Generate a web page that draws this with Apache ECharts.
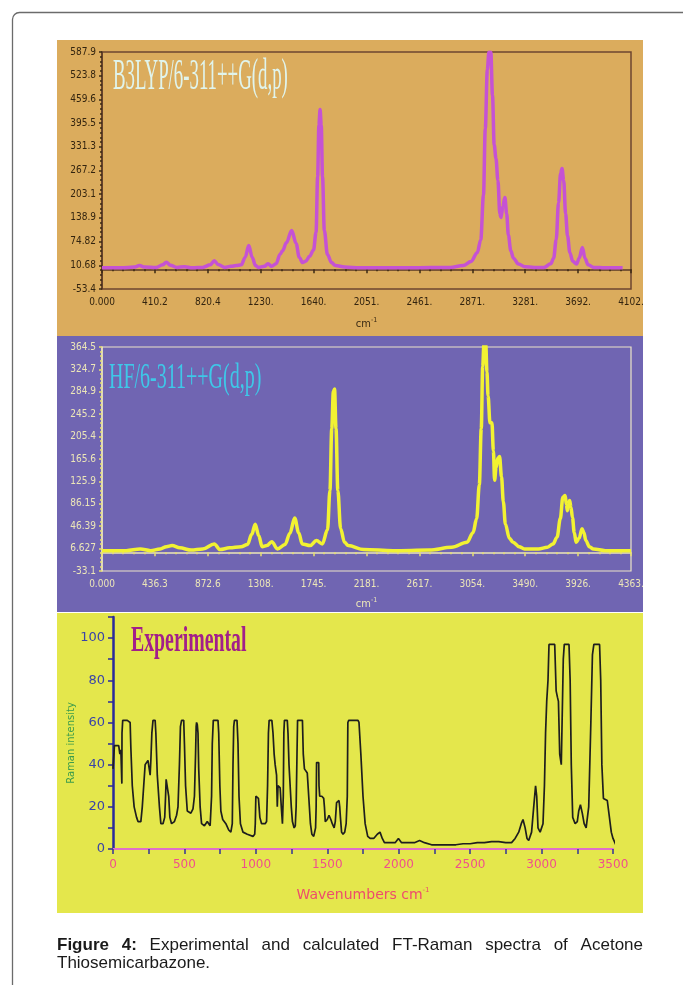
<!DOCTYPE html>
<html>
<head>
<meta charset="utf-8">
<title>FT-Raman spectra of Acetone Thiosemicarbazone</title>
<script src="https://cdn.jsdelivr.net/npm/echarts@6/dist/echarts.min.js"></script>
<style>
html, body { margin: 0; padding: 0; background: #fff; }
#chart { width: 683px; height: 985px; }
</style>
</head>
<body>
<div id="chart"></div>
<script>
// tick labels as printed on the original plots
var b3lypXLabels = ['0.000', '410.2', '820.4', '1230.', '1640.', '2051.', '2461.', '2871.', '3281.', '3692.', '4102.'];
var b3lypYLabels = ['-53.4', '10.68', '74.82', '138.9', '203.1', '267.2', '331.3', '395.5', '459.6', '523.8', '587.9'];
var hfXLabels = ['0.000', '436.3', '872.6', '1308.', '1745.', '2181.', '2617.', '3054.', '3490.', '3926.', '4363.'];
var hfYLabels = ['-33.1', '6.627', '46.39', '86.15', '125.9', '165.6', '205.4', '245.2', '284.9', '324.7', '364.5'];
var expXLabels = ['0', '500', '1000', '1500', '2000', '2500', '3000', '3500'];
var expYLabels = ['0', '20', '40', '60', '80', '100'];

// calculated spectrum, B3LYP/6-311++G(d,p)  [cm-1, intensity]
var b3lypPoints = [
	[0, 4], [150, 4], [250, 6], [291, 10], [330, 6], [420, 5], [470, 12], [499, 19], [530, 11], [580, 5],
	[640, 7], [700, 4], [780, 5], [840, 12], [871, 23], [900, 13], [950, 5], [1000, 8], [1040, 10], [1080, 12],
	[1110, 32], [1138, 64], [1165, 32], [1190, 10], [1213, 5], [1260, 8], [1287, 15], [1315, 8], [1350, 15], [1380, 40],
	[1400, 50], [1430, 72], [1471, 105], [1505, 70], [1530, 32], [1555, 18], [1580, 22], [1610, 35], [1640, 52], [1660, 100],
	[1672, 250], [1682, 390], [1691, 432], [1700, 390], [1710, 250], [1724, 105], [1748, 40], [1780, 18], [1810, 10], [1880, 6],
	[2000, 4], [2400, 4], [2700, 5], [2800, 10], [2862, 21], [2910, 45], [2937, 80], [2958, 200], [2972, 380], [2988, 540],
	[3000, 587], [3015, 587], [3028, 470], [3041, 337], [3055, 300], [3070, 240], [3085, 150], [3094, 140], [3108, 170], [3124, 194],
	[3138, 150], [3151, 93], [3170, 50], [3190, 30], [3230, 14], [3279, 7], [3350, 5], [3427, 5], [3480, 15], [3502, 30],
	[3522, 80], [3540, 180], [3556, 260], [3567, 273], [3580, 240], [3595, 150], [3610, 90], [3628, 45], [3650, 22], [3680, 14],
	[3700, 30], [3725, 59], [3745, 30], [3769, 12], [3814, 5], [3900, 4], [4037, 4]
];

// calculated spectrum, HF/6-311++G(d,p)
var hfPoints = [
	[0, 3], [200, 3], [316, 6], [400, 3], [480, 6], [531, 10], [578, 12], [641, 8], [736, 4], [831, 6],
	[926, 15], [973, 5], [1052, 8], [1147, 10], [1200, 14], [1235, 32], [1264, 50], [1292, 30], [1321, 10], [1360, 12],
	[1400, 19], [1447, 6], [1510, 14], [1550, 34], [1589, 61], [1622, 35], [1652, 15], [1716, 12], [1769, 21], [1817, 15],
	[1860, 40], [1880, 110], [1895, 220], [1908, 285], [1918, 290], [1930, 220], [1945, 110], [1968, 42], [2000, 18], [2031, 12],
	[2158, 5], [2400, 3], [2700, 4], [2884, 9], [3011, 18], [3060, 35], [3090, 60], [3112, 120], [3128, 220], [3140, 330],
	[3150, 370], [3165, 370], [3175, 320], [3184, 278], [3200, 230], [3216, 230], [3228, 180], [3238, 128], [3250, 150], [3264, 167],
	[3279, 170], [3295, 134], [3310, 90], [3327, 50], [3360, 25], [3390, 18], [3440, 10], [3485, 6], [3600, 6], [3674, 9],
	[3720, 15], [3753, 27], [3780, 60], [3801, 98], [3820, 101], [3830, 85], [3838, 74], [3848, 85], [3857, 92], [3868, 80],
	[3880, 62], [3895, 35], [3911, 18], [3935, 25], [3959, 42], [3975, 35], [3990, 21], [4020, 10], [4053, 6], [4150, 3],
	[4363, 3]
];

// measured FT-Raman spectrum
var expPoints = [
	[0, 38], [10, 49], [40, 49], [48, 45], [55, 47], [62, 31], [63, 55], [68, 61], [100, 61], [120, 60],
	[125, 48], [135, 30], [148, 20], [165, 15], [175, 13], [195, 13], [205, 20], [215, 30], [225, 40], [245, 42],
	[255, 42], [260, 35], [265, 42], [272, 55], [280, 61], [295, 61], [300, 55], [310, 35], [325, 20], [335, 12],
	[350, 12], [362, 15], [368, 25], [372, 33], [385, 33], [390, 25], [398, 15], [410, 12], [430, 13], [445, 16],
	[455, 20], [465, 40], [472, 58], [480, 61], [495, 61], [500, 50], [508, 30], [520, 18], [545, 17], [560, 19],
	[570, 25], [578, 45], [582, 58], [585, 60], [590, 59], [595, 55], [600, 38], [610, 20], [620, 12], [640, 11],
	[660, 13], [670, 12], [680, 11], [690, 25], [695, 50], [702, 61], [735, 61], [740, 55], [748, 30], [755, 18],
	[768, 14], [790, 12], [810, 9], [825, 8], [835, 12], [840, 40], [845, 58], [850, 61], [868, 61], [875, 50],
	[882, 25], [892, 12], [910, 8], [940, 7], [980, 6], [992, 7], [996, 12], [1000, 25], [1018, 24], [1028, 15],
	[1040, 12], [1065, 12], [1075, 13], [1082, 30], [1088, 55], [1093, 61], [1112, 61], [1120, 55], [1128, 45], [1135, 40],
	[1145, 35], [1150, 20], [1155, 30], [1170, 29], [1178, 20], [1186, 12], [1192, 25], [1196, 55], [1200, 61], [1220, 61],
	[1225, 55], [1232, 40], [1240, 30], [1248, 20], [1256, 13], [1268, 10], [1276, 11], [1282, 20], [1288, 45], [1292, 61],
	[1326, 61], [1332, 45], [1340, 38], [1360, 36], [1370, 25], [1382, 12], [1392, 7], [1405, 6], [1412, 6], [1418, 10],
	[1422, 20], [1425, 41], [1440, 41], [1442, 30], [1447, 25], [1462, 25], [1475, 24], [1480, 20], [1486, 13], [1500, 14],
	[1512, 16], [1525, 14], [1535, 12], [1548, 10], [1556, 13], [1565, 22], [1582, 23], [1587, 20], [1592, 15], [1600, 8],
	[1610, 7], [1622, 8], [1632, 12], [1640, 25], [1644, 60], [1650, 61], [1715, 61], [1722, 60], [1735, 45], [1750, 25],
	[1765, 12], [1783, 6], [1800, 5], [1825, 5], [1850, 7], [1869, 8], [1885, 5], [1900, 3], [1935, 3], [1975, 3],
	[1998, 5], [2020, 3], [2060, 3], [2110, 3], [2146, 4], [2180, 3], [2230, 2], [2300, 2], [2350, 2], [2400, 2],
	[2450, 2.5], [2500, 2.5], [2550, 3], [2600, 3], [2650, 3.5], [2700, 3.5], [2749, 3], [2790, 3], [2815, 5], [2840, 8],
	[2858, 12], [2870, 14], [2885, 10], [2898, 5], [2910, 4], [2930, 8], [2945, 20], [2958, 30], [2966, 25], [2975, 10],
	[2990, 8], [3010, 12], [3020, 30], [3028, 55], [3036, 70], [3045, 80], [3052, 97], [3092, 97], [3102, 75], [3111, 72],
	[3118, 70], [3127, 45], [3138, 40], [3145, 65], [3152, 90], [3159, 97], [3192, 97], [3200, 80], [3208, 40], [3218, 15],
	[3235, 12], [3250, 13], [3260, 18], [3272, 21], [3285, 17], [3298, 12], [3312, 10], [3330, 20], [3345, 60], [3356, 92],
	[3366, 97], [3406, 97], [3414, 80], [3422, 40], [3433, 24], [3447, 24], [3460, 23], [3475, 15], [3488, 8], [3500, 5],
	[3520, 2], [3540, 2]
];

var chart = echarts.init(document.getElementById('chart'));

var calcTitleFont = 'Liberation Serif, Times New Roman, serif';
var tickFont = 'DejaVu Sans Condensed';

function pickLabel(labels, min, step) {
	return function(v) {
		var i = Math.round((v - min) / step);
		return labels[i] === undefined ? '' : labels[i];
	};
}

// caption, justified over the width of the panels
var measureCtx = document.createElement('canvas').getContext('2d');
function textW(str, font) {
	measureCtx.font = font;
	return measureCtx.measureText(str).width;
}
var capFont = '17px "Liberation Sans", Arial, sans-serif';
var capBold = 'bold 17px "Liberation Sans", Arial, sans-serif';
var capWords = [['Figure', 1], ['4:', 1], ['Experimental', 0], ['and', 0], ['calculated', 0], ['FT-Raman', 0],
	['spectra', 0], ['of', 0], ['Acetone', 0]];
var capLeft = 57, capRight = 643;
var wordsW = 0;
capWords.forEach(function(w) { wordsW += textW(w[0], w[1] ? capBold : capFont); });
var gap = (capRight - capLeft - wordsW) / (capWords.length - 1);
var captionEls = [];
var cx = capLeft;
capWords.forEach(function(w) {
	var f = w[1] ? capBold : capFont;
	captionEls.push({
		type: 'text', x: cx, y: 945, z: 10,
		style: { text: w[0], font: f, fill: '#1a1a1a', verticalAlign: 'middle' }
	});
	cx += textW(w[0], f) + gap;
});
captionEls.push({
	type: 'text', x: capLeft, y: 963, z: 10,
	style: { text: 'Thiosemicarbazone.', font: capFont, fill: '#1a1a1a', verticalAlign: 'middle' }
});

var option = {
	animation: false,
	backgroundColor: '#fff',
	graphic: [
		{ type: 'rect', z: -5, shape: { x: 12.5, y: 12.5, width: 720, height: 1020, r: 7 },
			style: { fill: null, stroke: '#6b6b6b', lineWidth: 1.3 } },
		{ type: 'rect', z: -5, shape: { x: 57, y: 40, width: 586, height: 296 }, style: { fill: '#dbac5d' } },
		{ type: 'rect', z: -5, shape: { x: 57, y: 336, width: 586, height: 276 }, style: { fill: '#7065b2' } },
		{ type: 'rect', z: -5, shape: { x: 57, y: 613, width: 586, height: 300 }, style: { fill: '#e4e74c' } },
		{ type: 'text', x: 113, y: 78, scaleX: 0.99, scaleY: 2.3, z: 10,
			style: { text: 'B3LYP/6-311++G(d,p)', font: '19px ' + calcTitleFont, fill: '#e0f4ec', verticalAlign: 'middle' } },
		{ type: 'text', x: 109, y: 379, scaleX: 1.0, scaleY: 1.75, z: 10,
			style: { text: 'HF/6-311++G(d,p)', font: '20px ' + calcTitleFont, fill: '#3ec8e8', verticalAlign: 'middle' } },
		{ type: 'text', x: 131, y: 642, scaleX: 0.99, scaleY: 1.75, z: 10,
			style: { text: 'Experimental', font: 'bold 20px ' + calcTitleFont, fill: '#a21f8a', verticalAlign: 'middle' } },
		{ type: 'text', x: 71, y: 743, rotation: Math.PI / 2, z: 10,
			style: { text: 'Raman intensity', font: '10px "DejaVu Sans", sans-serif', fill: '#3c9c4c',
				align: 'center', verticalAlign: 'middle' } }
	].concat(captionEls),
	grid: [
		{ left: 102, top: 52, width: 529, height: 237, show: true, borderColor: '#6e4630', borderWidth: 1.5, outerBoundsMode: 'none' },
		{ left: 102, top: 347, width: 529, height: 224, show: true, borderColor: '#ece4c8', borderWidth: 1.2, outerBoundsMode: 'none' },
		{ left: 113, top: 617, width: 500, height: 232, outerBoundsMode: 'none' }
	],
	xAxis: [
		{
			gridIndex: 0, type: 'value', min: 0, max: 4102, interval: 410.2,
			name: 'cm{s|-1}', nameLocation: 'middle', nameGap: 28,
			nameTextStyle: { color: '#3b2a14', fontFamily: tickFont, fontSize: 11, lineHeight: 14,
				rich: { s: { fontSize: 7, verticalAlign: 'top', color: '#3b2a14', fontFamily: tickFont } } },
			axisLine: { lineStyle: { color: '#5a3826', width: 1.5 } },
			axisTick: { length: 4, lineStyle: { color: '#3b2a14', width: 1.5 } },
			minorTick: { show: true, splitNumber: 5, length: 2, lineStyle: { color: '#3b2a14', width: 1.5 } },
			axisLabel: { color: '#33240f', fontFamily: tickFont, fontSize: 10, margin: 8,
				formatter: pickLabel(b3lypXLabels, 0, 410.2) },
			splitLine: { show: false }
		},
		{
			gridIndex: 1, type: 'value', min: 0, max: 4363, interval: 436.3,
			name: 'cm{s|-1}', nameLocation: 'middle', nameGap: 26,
			nameTextStyle: { color: '#ece6b8', fontFamily: tickFont, fontSize: 11, lineHeight: 14,
				rich: { s: { fontSize: 7, verticalAlign: 'top', color: '#ece6b8', fontFamily: tickFont } } },
			axisLine: { lineStyle: { color: '#ece6b8', width: 1.5 } },
			axisTick: { length: 4, lineStyle: { color: '#e8e070', width: 1.5 } },
			minorTick: { show: true, splitNumber: 5, length: 2, lineStyle: { color: '#e8e070', width: 1.5 } },
			axisLabel: { color: '#ece6b8', fontFamily: tickFont, fontSize: 10, margin: 8,
				formatter: pickLabel(hfXLabels, 0, 436.3) },
			splitLine: { show: false }
		},
		{
			gridIndex: 2, type: 'value', min: 0, max: 3500, interval: 250,
			name: 'Wavenumbers cm{s|-1}', nameLocation: 'middle', nameGap: 38,
			nameTextStyle: { color: '#ee4c6c', fontFamily: 'DejaVu Sans', fontSize: 14, lineHeight: 16,
				rich: { s: { fontSize: 7, verticalAlign: 'top', color: '#ee4c6c' } } },
			axisLine: { lineStyle: { color: '#e070c8', width: 2 } },
			axisTick: { length: 5, lineStyle: { color: '#343494', width: 1.5 } },
			axisLabel: { color: '#f0508c', fontFamily: 'DejaVu Sans', fontSize: 12, margin: 10,
				formatter: function(v) { return v % 500 === 0 ? expXLabels[v / 500] : ''; } },
			splitLine: { show: false }
		}
	],
	yAxis: [
		{
			gridIndex: 0, type: 'value', min: -53.4, max: 587.9, interval: 64.13,
			axisLine: { show: true, lineStyle: { color: '#5a3826', width: 1.5 } },
			axisTick: { show: true, length: 3, lineStyle: { color: '#3b2a14', width: 1.5 } },
			minorTick: { show: true, splitNumber: 5, length: 2, lineStyle: { color: '#3b2a14', width: 1.5 } },
			axisLabel: { color: '#33240f', fontFamily: tickFont, fontSize: 10, margin: 6,
				formatter: pickLabel(b3lypYLabels, -53.4, 64.13) },
			splitLine: { show: false }
		},
		{
			gridIndex: 1, type: 'value', min: -33.1, max: 364.5, interval: 39.76,
			axisLine: { show: true, lineStyle: { color: '#ece6b8', width: 1.5 } },
			axisTick: { show: true, length: 3, lineStyle: { color: '#e8e070', width: 1.5 } },
			minorTick: { show: true, splitNumber: 5, length: 2, lineStyle: { color: '#e8e070', width: 1.5 } },
			axisLabel: { color: '#ece6b8', fontFamily: tickFont, fontSize: 10, margin: 6,
				formatter: pickLabel(hfYLabels, -33.1, 39.76) },
			splitLine: { show: false }
		},
		{
			gridIndex: 2, type: 'value', min: 0, max: 110, interval: 10,
			axisLine: { show: true, lineStyle: { color: '#2a2a9c', width: 2.5 } },
			axisTick: { show: true, length: 5, lineStyle: { color: '#2a2a9c', width: 1.5 } },
			axisLabel: { color: '#3a44a8', fontFamily: 'DejaVu Sans', fontSize: 13, margin: 8,
				formatter: function(v) { return v % 20 === 0 && v <= 100 ? expYLabels[v / 20] : ''; } },
			splitLine: { show: false }
		}
	],
	series: [
		{
			name: 'B3LYP/6-311++G(d,p)', type: 'line', xAxisIndex: 0, yAxisIndex: 0,
			data: b3lypPoints, showSymbol: false, smooth: 0.35, smoothMonotone: 'x',
			lineStyle: { color: '#c552d4', width: 3.5 }
		},
		{
			name: 'HF/6-311++G(d,p)', type: 'line', xAxisIndex: 1, yAxisIndex: 1,
			data: hfPoints, showSymbol: false, smooth: 0.35, smoothMonotone: 'x',
			lineStyle: { color: '#f2f232', width: 3.5 }
		},
		{
			name: 'Experimental', type: 'line', xAxisIndex: 2, yAxisIndex: 2,
			data: expPoints, showSymbol: false, clip: false,
			lineStyle: { color: '#1e1e1e', width: 1.7 }
		}
	]
};

chart.setOption(option);
</script>
</body>
</html>
